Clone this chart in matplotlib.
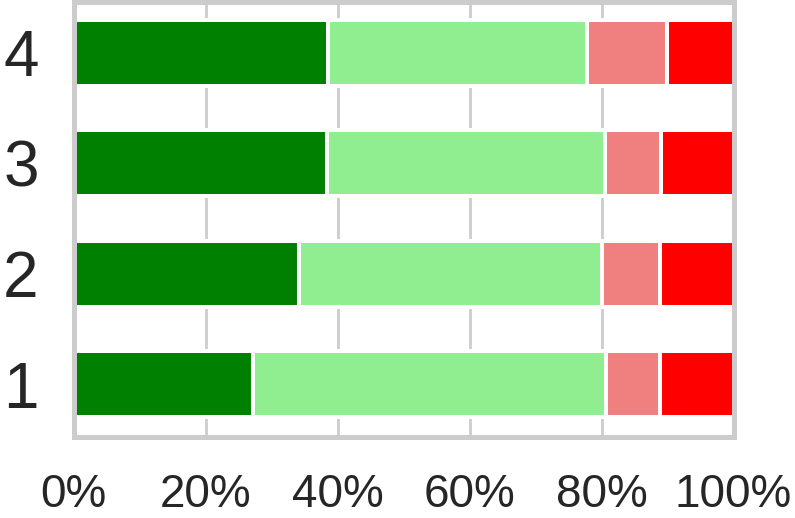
import matplotlib
matplotlib.use("Agg")
import matplotlib.pyplot as plt
from matplotlib.ticker import FuncFormatter

# stacked shares (%) per row, bottom row first
categories = ["1", "2", "3", "4"]
seg_green = [27.2, 34.2, 38.4, 38.5]
seg_lightgreen = [53.5, 45.9, 42.2, 39.3]
seg_lightcoral = [8.2, 8.7, 8.4, 12.1]
seg_red = [11.1, 11.2, 11.0, 10.1]
segments = [seg_green, seg_lightgreen, seg_lightcoral, seg_red]
seg_colors = ["#008000", "#90EE90", "#F08080", "#FF0000"]
xticks = [0, 20, 40, 60, 80, 100]

plt.rcParams.update({
    "font.family": ["Liberation Sans", "DejaVu Sans"],
    "text.color": "#262626",
    "xtick.color": "#262626",
    "ytick.color": "#262626",
})

fig = plt.figure(figsize=(7.95, 5.18), dpi=100)
ax = fig.add_axes([73.5 / 795, 1 - 437 / 518, 660 / 795, 435.5 / 518])

pos = list(range(len(categories)))
left = [0.0] * len(categories)
for vals, col in zip(segments, seg_colors):
    ax.barh(pos, vals, left=left, height=0.6, color=col,
            edgecolor="white", linewidth=2.9, zorder=2)
    left = [l + v for l, v in zip(left, vals)]

ax.set_xlim(0, 100)
ax.set_ylim(-0.478, 3.463)
ax.set_xticks(xticks)
ax.xaxis.set_major_formatter(FuncFormatter(lambda v, p: f"{v:.0f}%"))
ax.set_yticks(pos)
ax.set_yticklabels(categories)

ax.set_axisbelow(True)
ax.grid(axis="x", color="#cccccc", linewidth=2.0)
ax.grid(axis="y", visible=False)
for sp in ax.spines.values():
    sp.set_color("#cccccc")
    sp.set_linewidth(3.6)

ax.tick_params(axis="x", length=0, labelsize=33, pad=26)
ax.tick_params(axis="y", length=0, labelsize=46, pad=25)

fig.savefig("out.png", dpi=100)
